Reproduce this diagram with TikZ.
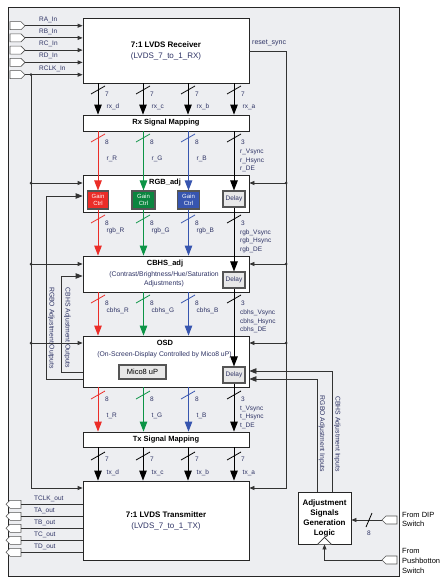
\documentclass[tikz,border=0pt]{standalone}
\usepackage{fontspec}
\setmainfont{Liberation Sans}
\usetikzlibrary{arrows.meta,positioning,shapes.symbols}
\definecolor{lbl}{RGB}{45,50,100}
\definecolor{bgc}{RGB}{237,238,241}
\definecolor{rim}{RGB}{85,85,85}
\definecolor{busR}{RGB}{235,45,40}
\definecolor{busG}{RGB}{12,148,70}
\definecolor{busB}{RGB}{55,85,175}
\begin{document}
\begin{tikzpicture}[x=1pt,y=-1pt,>={Triangle[length=5pt,width=4pt]},
    block/.style={draw=black!85,fill=white,line width=0.8pt,inner sep=0pt},
    sub/.style={draw=rim,line width=1.1pt,inner sep=0pt,align=center},
    ttl/.style={font=\bfseries\fontsize{7.5}{9}\selectfont,inner sep=0pt},
    lab/.style={font=\fontsize{6.5}{8.5}\selectfont,text=lbl,inner sep=0pt},
    side/.style={lab,rotate=-90,font=\fontsize{6.8}{8}\selectfont},
    wire/.style={draw=black!80,line width=0.8pt},
    bus/.style={line width=1pt,-{Triangle[length=10pt,width=7.5pt]}},
    fb/.style={wire,-{Triangle[length=7pt,width=5.5pt]}},
    port/.style={signal,draw=rim,fill=white,line width=0.6pt,
      minimum width=15pt,minimum height=8pt,inner sep=0pt},
    inport/.style={port,signal to=east},
    outport/.style={port,signal to=west}]

  \useasboundingbox (0,0) rectangle (447,583);
  \draw[fill=bgc,draw=black!85,line width=0.7pt] (8,7) rectangle (399,576);

  \node[block,minimum width=166pt,minimum height=65pt,align=center,
    font=\fontsize{8}{11}\selectfont] (rx) at (166,50.5)
    {\textbf{7:1 LVDS Receiver}\\\textcolor{lbl}{(LVDS\_7\_to\_1\_RX)}};
  \node[block,ttl,minimum width=166pt,minimum height=16pt] (rxm) at (166,123) {Rx Signal Mapping};
  \node[block,minimum width=166pt,minimum height=37pt] (rgb) at (166,193.5) {};
  \node[block,minimum width=166pt,minimum height=36pt] (cbhs) at (166,274) {};
  \node[block,minimum width=166pt,minimum height=51pt] (osd) at (166,361.5) {};
  \node[block,ttl,minimum width=166pt,minimum height=15pt] (txm) at (166,439.5) {Tx Signal Mapping};
  \node[block,minimum width=166pt,minimum height=79pt,align=center,
    font=\fontsize{8}{11}\selectfont] (tx) at (166,520.5)
    {\textbf{7:1 LVDS Transmitter}\\\textcolor{lbl}{(LVDS\_7\_to\_1\_TX)}};
  \node[block,minimum width=53pt,minimum height=52pt,align=center,
    font=\bfseries\fontsize{8}{10}\selectfont] (adj) at (324.5,518)
    {Adjustment\\Signals\\Generation\\Logic};

  \node[ttl] (trgb) at (165,183) {RGB\_adj};
  \node[ttl] (tcbhs) at (165,264) {CBHS\_adj};
  \node[lab,align=center,font=\fontsize{6.8}{9}\selectfont] (scbhs) at (164,279.5)
    {(Contrast/Brightness/Hue/Saturation\\Adjustments)};
  \node[ttl] (tosd) at (165,343) {OSD};
  \node[lab,font=\fontsize{6.8}{8}\selectfont] (sosd) at (164.5,355)
    {(On-Screen-Display Controlled by Mico8 uP)};

  \node[sub,fill=busR,text=white,font=\fontsize{6}{7.5}\selectfont,
    minimum width=21pt,minimum height=18pt] (gR) at (98,200) {Gain\\Ctrl};
  \node[sub,fill=busG!90!black,text=white,font=\fontsize{6}{7.5}\selectfont,
    minimum width=23pt,minimum height=18pt] (gG) at (143.5,200) {Gain\\Ctrl};
  \node[sub,fill=busB,text=white,font=\fontsize{6}{7.5}\selectfont,
    minimum width=22pt,minimum height=18pt] (gB) at (188.5,200) {Gain\\Ctrl};
  \node[sub,fill=gray!18,text=lbl,font=\fontsize{6.5}{8}\selectfont,
    minimum width=22pt,minimum height=16pt] (d1) at (234,199) {Delay};
  \node[sub,fill=gray!18,text=lbl,font=\fontsize{6.5}{8}\selectfont,
    minimum width=22pt,minimum height=16pt] (d2) at (234,280) {Delay};
  \node[sub,fill=gray!18,text=lbl,font=\fontsize{6.5}{8}\selectfont,
    minimum width=22pt,minimum height=16pt] (d3) at (234,375) {Delay};
  \node[sub,fill=gray!18,font=\fontsize{7.5}{9}\selectfont,
    minimum width=47pt,minimum height=14pt] (mico) at (142.5,372) {Mico8 uP};

  \foreach \n/\y in {A/25.7,B/37.9,C/50.1,D/62.4,CLK/74.7} {
    \node[inport] (p\n) at (15.5,\y) {};
    \node[lab,anchor=west] (lp\n) at (39,\y-6) {R\n\_In};
    \draw[wire,->] (p\n.east) -- (p\n.east -| rx.west);
  }
  \foreach \n/\y in {CLK/504.3,A/516.3,B/528.3,C/540.3,D/552.3} {
    \node[outport] (o\n) at (15.5,\y) {};
    \node[lab,anchor=west] (lo\n) at (34,\y-5.5) {T\n\_out};
    \draw[wire] (o\n.east) -- (o\n.east -| tx.west);
  }

  \foreach \x/\n in {98/d,143/c,188/b,234/a} {
    \draw[bus] (rx.south -| \x,0) -- (rxm.north -| \x,0);
    \draw[line width=0.8pt] (\x,90) ++(-7,4) -- ++(14,-8);
    \node[lab,anchor=west] (s\n) at (\x+7,94.5) {7};
    \node[lab,anchor=west] (r\n) at (\x+8.5,107) {rx\_\n};
    \draw[bus] (txm.south -| \x,0) -- (tx.north -| \x,0);
    \draw[line width=0.8pt] (\x,456) ++(-7,4) -- ++(14,-8);
    \node[lab,anchor=west] (u\n) at (\x+7,459.5) {7};
    \node[lab,anchor=west] (t\n) at (\x+8.5,473) {tx\_\n};
  }

  \foreach \c/\x in {R/98,G/143,B/188} {
    \draw[bus,bus\c] (rxm.south -| g\c) -- (g\c.north);
    \draw[bus,bus\c] (g\c.south) -- (cbhs.north -| g\c);
    \draw[bus,bus\c] (cbhs.south -| g\c) -- (osd.north -| g\c);
    \draw[bus,bus\c] (osd.south -| g\c) -- (txm.north -| g\c);
    \foreach \y in {138,219,299,395} {
      \draw[bus\c,line width=0.8pt] (\x,\y) ++(-7,4) -- ++(14,-8);
      \node[lab,anchor=west] (e\c\y) at (\x+7,\y+4.5) {8};
    }
    \node[lab,anchor=west] (a\c) at (\x+8.5,159) {r\_\c};
    \node[lab,anchor=west] (b\c) at (\x+8.5,231) {rgb\_\c};
    \node[lab,anchor=west] (c\c) at (\x+8.5,311) {cbhs\_\c};
    \node[lab,anchor=west] (f\c) at (\x+8.5,416) {t\_\c};
  }

  \draw[bus] (rxm.south -| d1) -- (d1.north);
  \draw[bus] (d1.south) -- (d2.north);
  \draw[bus] (d2.south) -- (d3.north);
  \draw[bus] (d3.south) -- (txm.north -| d3);
  \foreach \y in {138,219,299,395} {
    \draw[line width=0.8pt] (234,\y) ++(-7,4) -- ++(14,-8);
    \node[lab,anchor=west] (h\y) at (241,\y+4.5) {3};
  }
  \node[lab,anchor=west,align=left] (vr) at (240,160.5) {r\_Vsync\\r\_Hsync\\r\_DE};
  \node[lab,anchor=west,align=left] (vrgb) at (240,241.3) {rgb\_Vsync\\rgb\_Hsync\\rgb\_DE};
  \node[lab,anchor=west,align=left] (vcbhs) at (240,321.7) {cbhs\_Vsync\\cbhs\_Hsync\\cbhs\_DE};
  \node[lab,anchor=west,align=left] (vt) at (240,417.3) {t\_Vsync\\t\_Hsync\\t\_DE};

  \coordinate (ck) at (31,74.7);
  \fill[black!80] (ck) circle (1.5pt);
  \draw[wire,->] (ck) |- (tx.west |- 0,488);
  \foreach \b/\y in {rgb/183,cbhs/264,osd/343} {
    \coordinate (k\b) at (31,\y);
    \fill[black!80] (k\b) circle (1.5pt);
    \draw[wire,->] (k\b) -- (\b.west |- k\b);
  }

  \coordinate (rs) at (286,51);
  \draw[wire,->] (rx.east |- rs) -- (rs) |- (tx.east |- 0,488);
  \node[lab,anchor=west,font=\fontsize{7}{8}\selectfont] (lrs) at (252,43) {reset\_sync};
  \foreach \b/\y in {rgb/183,cbhs/264,osd/343} {
    \coordinate (q\b) at (286,\y);
    \fill[black!80] (q\b) circle (1.5pt);
    \draw[wire,->] (q\b) -- (\b.east |- q\b);
  }

  \draw[fb] (osd.west |- 0,379) -- ++(-36,0) |- (rgb.west |- 0,196);
  \draw[fb] (osd.west |- 0,372) -- ++(-21,0) |- (cbhs.west |- 0,276);
  \node[side] (tro) at (51.5,328) {RGBO Adjustment Outputs};
  \node[side] (tco) at (67.5,328) {CBHS Adjustment Outputs};

  \draw[fb] ([xshift=7.5pt]adj.north) |- (osd.east |- 0,371);
  \draw[fb] ([xshift=-7.5pt]adj.north) |- (osd.east |- 0,379);
  \node[side] (tri) at (322,434) {RGBO Adjustment Inputs};
  \node[side] (tci) at (337.5,434) {CBHS Adjustment Inputs};

  \draw[wire,fill=white] ([xshift=-7pt]adj.south) -- ([yshift=7pt]adj.south) -- ([xshift=7pt]adj.south);
  \node[outport] (dip) at (391.5,520) {};
  \node[outport] (pb) at (391.5,560) {};
  \draw[wire,->] (dip.west) -- (dip.west -| adj.east);
  \draw[line width=0.8pt] (369,520) ++(-3,7) -- ++(6,-14);
  \node[lab] (l8) at (369,533) {8};
  \draw[wire,->] (pb.west) -| (adj.south);
  \node[anchor=west,align=left,inner sep=0pt,font=\fontsize{7.5}{9.5}\selectfont]
    (tdip) at (402,519.5) {From DIP\\Switch};
  \node[anchor=west,align=left,inner sep=0pt,font=\fontsize{7.5}{10}\selectfont]
    (tpb) at (402,561) {From\\Pushbotton\\Switch};

\end{tikzpicture}
\end{document}
